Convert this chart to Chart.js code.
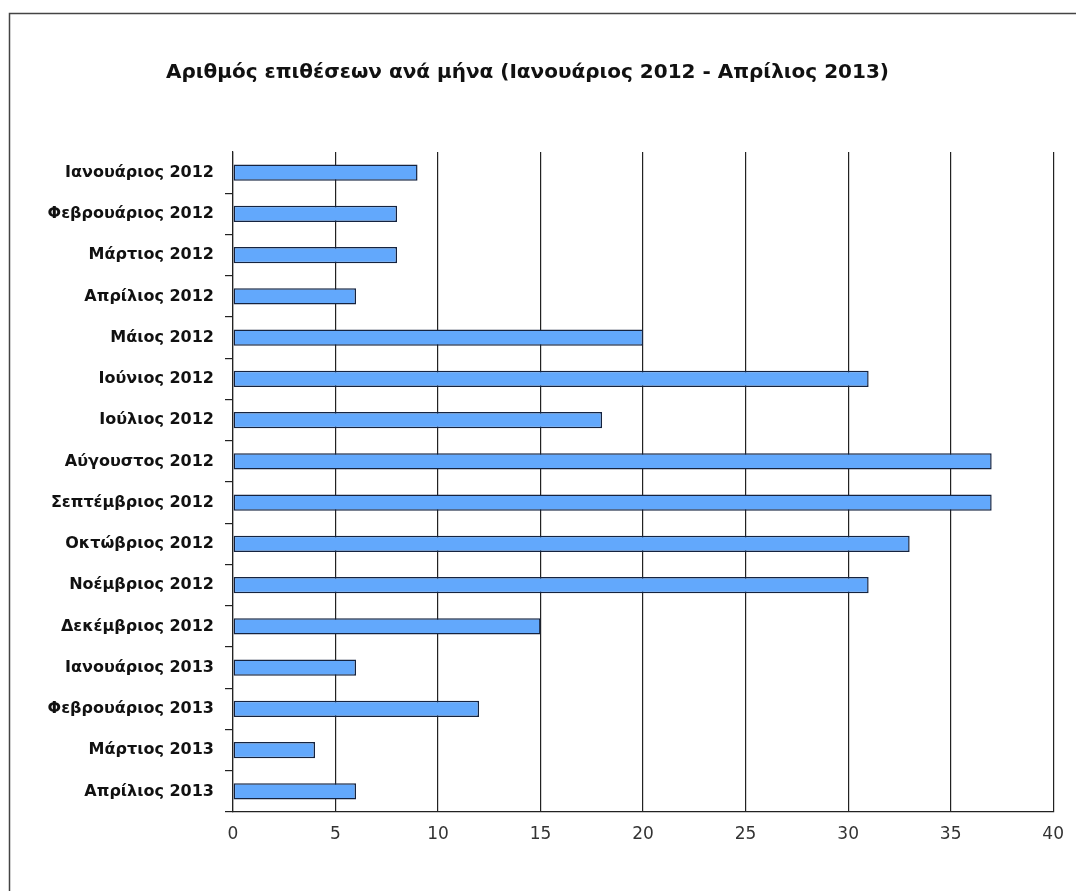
<!DOCTYPE html>
<html>
<head>
<meta charset="utf-8">
<script src="https://cdn.jsdelivr.net/npm/chart.js@4"></script>
<style>
  html, body { margin: 0; padding: 0; background: #fff; }
  #wrap { width: 1076px; height: 891px; position: relative; }
</style>
</head>
<body>
<div id="wrap"><canvas id="c" width="1076" height="891"></canvas></div>
<script>
const titleText = 'Αριθμός επιθέσεων ανά μήνα (Ιανουάριος 2012 - Απρίλιος 2013)';
const categories = [
  'Ιανουάριος 2012', 'Φεβρουάριος 2012', 'Μάρτιος 2012', 'Απρίλιος 2012',
  'Μάιος 2012', 'Ιούνιος 2012', 'Ιούλιος 2012', 'Αύγουστος 2012',
  'Σεπτέμβριος 2012', 'Οκτώβριος 2012', 'Νοέμβριος 2012', 'Δεκέμβριος 2012',
  'Ιανουάριος 2013', 'Φεβρουάριος 2013', 'Μάρτιος 2013', 'Απρίλιος 2013'
];
const attacks = [9, 8, 8, 6, 20, 31, 18, 37, 37, 33, 31, 15, 6, 12, 4, 6];
const xMin = 0, xMax = 40, xStep = 5;

const frame = {
  id: 'frame',
  beforeDraw(chart) {
    const ctx = chart.ctx;
    ctx.save();
    ctx.fillStyle = '#fff';
    ctx.fillRect(0, 0, chart.width, chart.height);
    ctx.strokeStyle = '#444';
    ctx.lineWidth = 1.5;
    ctx.beginPath();
    ctx.moveTo(9.5, chart.height + 2);
    ctx.lineTo(9.5, 13.5);
    ctx.lineTo(chart.width + 2, 13.5);
    ctx.stroke();
    ctx.restore();
  }
};

new Chart(document.getElementById('c'), {
  type: 'bar',
  data: {
    labels: categories,
    datasets: [{
      data: attacks,
      backgroundColor: '#62a8fc',
      borderColor: '#15233f',
      borderWidth: 1.5,
      borderSkipped: false,
      categoryPercentage: 1.0,
      barPercentage: 0.39
    }]
  },
  options: {
    indexAxis: 'y',
    responsive: false,
    animation: false,
    devicePixelRatio: 1,
    layout: { padding: { left: 0, right: 21, top: 0, bottom: 0 } },
    plugins: {
      legend: { display: false },
      tooltip: { enabled: false },
      title: {
        display: true,
        text: titleText,
        color: '#111',
        font: { family: 'DejaVu Sans', size: 20, weight: 'bold' },
        padding: { top: 61, bottom: 67 }
      }
    },
    scales: {
      x: {
        min: xMin, max: xMax,
        ticks: {
          stepSize: xStep,
          color: '#333',
          font: { family: 'DejaVu Sans', size: 17 },
          padding: 12
        },
        grid: { color: '#222', lineWidth: 1.2, drawTicks: false },
        border: { display: true, color: '#222', width: 1.2 },
        afterFit(scale) { scale.height = 79; }
      },
      y: {
        ticks: {
          color: '#111',
          font: { family: 'DejaVu Sans', size: 16, weight: 'bold' },
          padding: 11
        },
        grid: {
          offset: true,
          drawOnChartArea: false,
          drawTicks: true,
          tickLength: 8,
          lineWidth: 1.2,
          color: (ctx) => ctx.index === 0 ? 'rgba(0,0,0,0)' : '#222'
        },
        border: { display: true, color: '#222', width: 1.2 },
        afterFit(scale) { scale.width = 233; }
      }
    }
  },
  plugins: [frame]
});
</script>
</body>
</html>
